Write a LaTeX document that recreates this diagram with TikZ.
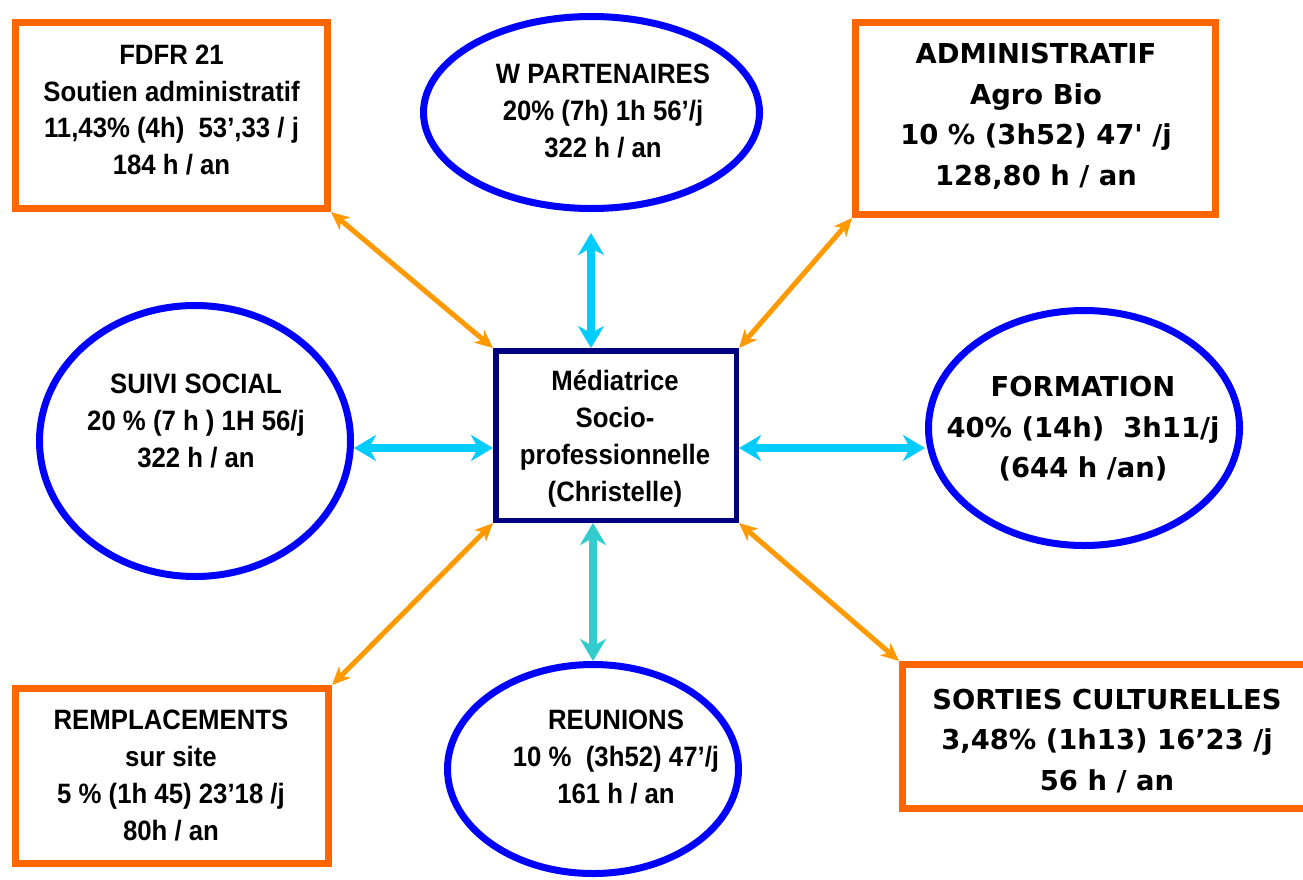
\documentclass[tikz,border=0pt]{standalone}
\usepackage{fontspec}
\newfontfamily\arialn{Liberation Sans}[FakeStretch=0.92]
\newfontfamily\comicf{DejaVu Sans}
\usetikzlibrary{arrows.meta,shapes.geometric}
\definecolor{boxorange}{HTML}{FF6600}
\definecolor{ellblue}{HTML}{0000FF}
\definecolor{midnavy}{HTML}{000080}
\definecolor{arrorange}{HTML}{FF9900}
\definecolor{arrcyan}{HTML}{00CCFF}
\definecolor{arrteal}{HTML}{33CCCC}
\tikzset{
  obox/.style={rectangle, draw=boxorange, line width=7pt, inner sep=0pt},
  ell/.style={ellipse, draw=ellblue, line width=7pt, inner sep=0pt},
  midbox/.style={rectangle, draw=midnavy, line width=5.5pt, inner sep=0pt},
  arialtxt/.style={font=\arialn\bfseries\fontsize{28}{36.8}\selectfont, align=center, inner sep=0pt},
  comictxt/.style={font=\comicf\bfseries\fontsize{27.4}{40.5}\selectfont, align=center, inner sep=0pt},
  oarrow/.style={draw=arrorange, line width=5pt,
    {Stealth[length=18pt,width=16pt,inset=5pt]}-{Stealth[length=18pt,width=16pt,inset=5pt]}},
  carrow/.style={draw=arrcyan, line width=8pt,
    {Stealth[length=22pt,width=26pt,inset=7pt]}-{Stealth[length=22pt,width=26pt,inset=7pt]}},
  tarrow/.style={carrow, draw=arrteal}
}
\begin{document}
\begin{tikzpicture}[x=1pt,y=-1pt]
\useasboundingbox (0,0) rectangle (1303,879);
\fill[white] (0,0) rectangle (1303,879);

% shapes
\node[obox, minimum width=312pt, minimum height=186pt] (fdfr) at (171.5,115.5) {};
\node[obox, minimum width=360pt, minimum height=192pt] (admin) at (1035.5,118.5) {};
\node[obox, minimum width=313pt, minimum height=175pt] (rempl) at (172,776) {};
\node[obox, minimum width=405pt, minimum height=144pt] (sorties) at (1105,736.5) {};
\node[midbox, minimum width=240.5pt, minimum height=169.5pt] (med) at (616,435.5) {};
\node[ell, minimum width=336pt, minimum height=192pt] (wpart) at (591.5,112.5) {};
\node[ell, minimum width=311pt, minimum height=271pt] (suivi) at (195,441) {};
\node[ell, minimum width=311pt, minimum height=235pt] (form) at (1084,428) {};
\node[ell, minimum width=291pt, minimum height=209pt] (reu) at (593,769) {};

% connectors
\coordinate (wtop) at (591,233);
\coordinate (hy) at (0,448);
\draw[oarrow] (fdfr.south east) -- (med.north west);
\draw[oarrow] (admin.south west) -- (med.north east);
\draw[oarrow] (rempl.north east) -- (med.south west);
\draw[oarrow] (sorties.north west) -- (med.south east);
\draw[carrow] (wtop) -- (wtop |- med.north);
\draw[carrow] (suivi.east |- hy) -- (med.west |- hy);
\draw[carrow] (med.east |- hy) -- (form.west |- hy);
\draw[tarrow] (med.south -| reu.north) -- (reu.north);

% texts
\node[arialtxt] (fdfrt) at (171.5,110) {FDFR 21\\Soutien administratif\\11,43\% (4h)\ \ 53’,33 / j\\184 h / an};
\node[arialtxt] (wpartt) at (603,111) {W PARTENAIRES\\20\% (7h) 1h 56’/j\\322 h / an};
\node[arialtxt] (suivit) at (196,421) {SUIVI SOCIAL\\20 \% (7 h ) 1H 56/j\\322 h / an};
\node[arialtxt] (medt) at (615,438.5) {Médiatrice\\Socio-\\professionnelle\\(Christelle)};
\node[arialtxt] (remplt) at (171,775.5) {REMPLACEMENTS\\sur site\\5 \% (1h 45) 23’18 /j\\80h / an};
\node[arialtxt] (reut) at (616,757) {REUNIONS\\10 \%\ \ (3h52) 47’/j\\161 h / an};
\node[comictxt] (admint) at (1036,116.5) {ADMINISTRATIF\\Agro Bio\\10 \% (3h52) 47\textquotesingle{} /j\\128,80 h / an};
\node[comictxt] (formt) at (1083,429) {FORMATION\\40\% (14h)\ \ 3h11/j\\(644 h /an)};
\node[comictxt] (sortiest) at (1107,741) {SORTIES CULTURELLES\\3,48\% (1h13) 16’23 /j\\56 h / an};
\end{tikzpicture}
\end{document}
